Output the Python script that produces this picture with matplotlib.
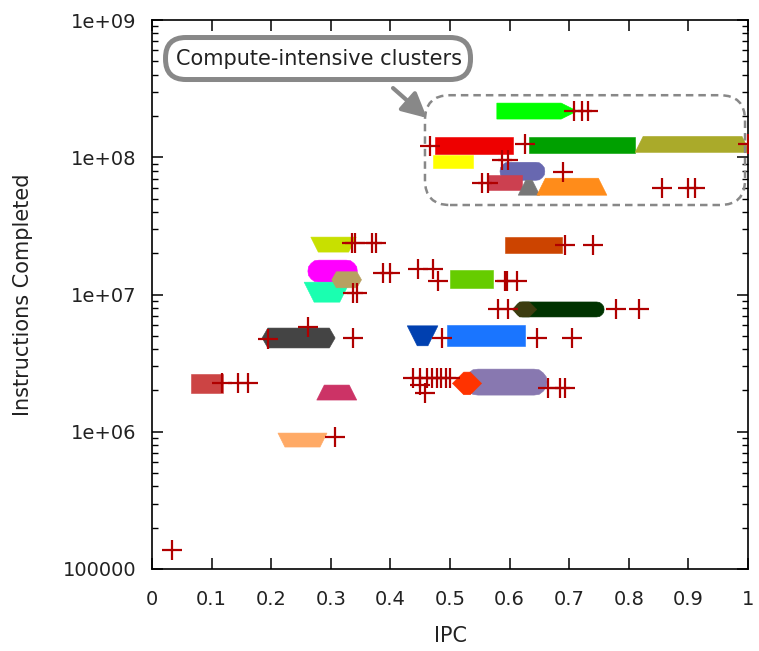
import numpy as np
import matplotlib
matplotlib.use("Agg")
import matplotlib.pyplot as plt
from matplotlib.markers import MarkerStyle
from matplotlib.patches import Polygon, FancyBboxPatch

plt.rcParams["font.family"] = ["DejaVu Sans"]

# clusters: range of IPC covered by the cluster and its instruction count
cluster_ipc_lo = [0.592, 0.489, 0.482, 0.646, 0.824, 0.599, 0.576, 0.627, 0.660,
                  0.279, 0.280, 0.272, 0.317, 0.204, 0.081, 0.289, 0.223, 0.606,
                  0.515, 0.622, 0.617, 0.445, 0.513, 0.547, 0.523]
cluster_ipc_hi = [0.700, 0.591, 0.528, 0.797, 0.990, 0.644, 0.608, 0.638, 0.749,
                  0.330, 0.326, 0.315, 0.336, 0.288, 0.103, 0.331, 0.282, 0.674,
                  0.557, 0.746, 0.633, 0.463, 0.608, 0.641, 0.534]
cluster_instr = [2.17e8, 1.22e8, 9.3e7, 1.22e8, 1.24e8, 7.9e7, 6.55e7, 6.0e7, 6.1e7,
                 2.31e7, 1.48e7, 1.04e7, 1.28e7, 4.82e6, 2.25e6, 1.93e6, 8.7e5, 2.3e7,
                 1.3e7, 7.78e6, 7.78e6, 5.0e6, 5.0e6, 2.3e6, 2.25e6]

# style of each cluster
cluster_markers = [">", "s", "s", "s", "^", "o", "s", "^", "^",
                   "v", "o", "v", "H", "H", "s", "^", "v", "s",
                   "s", "o", "D", "v", "s", "o", "D"]
cluster_sizes = [16, 17, 13, 16, 16, 18, 15, 15, 17,
                 15, 22, 20, 18.5, 23, 19, 15, 14, 16,
                 18, 15, 10.6, 20, 21, 26, 16]
cluster_colors = ["#00ff00", "#ee0000", "#ffff00", "#00a000", "#aaaa2a", "#6868b0",
                  "#cc4050", "#777777", "#ff8c1a", "#c8e000", "#ff00ff", "#1affb0",
                  "#b8a060", "#444444", "#cc4444", "#cc3366", "#ffaa66", "#cc4400",
                  "#66cc00", "#003300", "#3d3d10", "#0040b0", "#1a75ff", "#8878b0",
                  "#ff3300"]

# outliers (red crosses)
outlier_ipc = [0.034, 0.708, 0.721, 0.732, 0.466, 0.626, 1.0, 0.587, 0.597,
               0.554, 0.564, 0.690, 0.856, 0.899, 0.911,
               0.336, 0.341, 0.369, 0.376, 0.388, 0.399, 0.337, 0.344,
               0.195, 0.262, 0.337, 0.117, 0.144, 0.161, 0.307,
               0.693, 0.740, 0.446, 0.471, 0.480, 0.592, 0.596, 0.612,
               0.581, 0.597, 0.779, 0.817, 0.487, 0.646, 0.705,
               0.438, 0.450, 0.461, 0.470, 0.478, 0.485, 0.493, 0.500,
               0.450, 0.458, 0.664, 0.685, 0.693]
outlier_instr = [1.375e5, 2.17e8, 2.17e8, 2.17e8, 1.21e8, 1.25e8, 1.25e8, 9.55e7, 9.55e7,
                 6.49e7, 6.49e7, 7.81e7, 5.97e7, 5.97e7, 5.97e7,
                 2.37e7, 2.37e7, 2.37e7, 2.37e7, 1.43e7, 1.43e7, 1.03e7, 1.03e7,
                 4.74e6, 5.8e6, 4.82e6, 2.27e6, 2.27e6, 2.27e6, 9.16e5,
                 2.29e7, 2.29e7, 1.53e7, 1.53e7, 1.25e7, 1.25e7, 1.25e7, 1.25e7,
                 7.84e6, 7.84e6, 7.84e6, 7.84e6, 4.82e6, 4.82e6, 4.82e6,
                 2.46e6, 2.46e6, 2.46e6, 2.46e6, 2.46e6, 2.46e6, 2.46e6, 2.46e6,
                 2.19e6, 1.92e6, 2.08e6, 2.08e6, 2.08e6]

x_ticks = [0, 0.1, 0.2, 0.3, 0.4, 0.5, 0.6, 0.7, 0.8, 0.9, 1]
x_ticklabels = ["0", "0.1", "0.2", "0.3", "0.4", "0.5", "0.6", "0.7", "0.8", "0.9", "1"]
y_ticks = [1e5, 1e6, 1e7, 1e8, 1e9]
y_ticklabels = ["100000", "1e+06", "1e+07", "1e+08", "1e+09"]

DPI = 100
AX_W, AX_H = 596, 549  # axes size in pixels


def convex_hull(pts):
    pts = sorted(set(map(tuple, np.round(pts, 3))))
    def cross(o, a, b):
        return (a[0] - o[0]) * (b[1] - o[1]) - (a[1] - o[1]) * (b[0] - o[0])
    lower, upper = [], []
    for p in pts:
        while len(lower) >= 2 and cross(lower[-2], lower[-1], p) <= 0:
            lower.pop()
        lower.append(p)
    for p in reversed(pts):
        while len(upper) >= 2 and cross(upper[-2], upper[-1], p) <= 0:
            upper.pop()
        upper.append(p)
    return np.array(lower[:-1] + upper[:-1])


def band(ax, x0, x1, y, marker, size_px, color, z):
    # a cluster of markers sliding from x0 to x1 -> hull of the two end markers
    ms = MarkerStyle(marker)
    path = ms.get_path().transformed(ms.get_transform())
    polys = path.to_polygons()
    verts = np.concatenate(polys) if len(polys) else path.vertices
    verts = verts * size_px
    pts = []
    for xv in (x0, x1):
        c = ax.transData.transform((xv, y))
        pts.append(verts + c)
    hull = convex_hull(np.vstack(pts))
    hull_data = ax.transData.inverted().transform(hull)
    ax.add_patch(Polygon(hull_data, closed=True, fc=color, ec=color, lw=0.4, zorder=z))


fig = plt.figure(figsize=(7.59, 6.51), dpi=DPI)
ax = fig.add_axes([152 / 759, 82 / 651, AX_W / 759, AX_H / 651])
ax.set_yscale("log")
ax.set_xlim(0, 1)
ax.set_ylim(1e5, 1e9)

for i in range(len(cluster_instr)):
    band(ax, cluster_ipc_lo[i], cluster_ipc_hi[i], cluster_instr[i],
         cluster_markers[i], cluster_sizes[i], cluster_colors[i], 2 + i * 0.01)

ax.plot(outlier_ipc, outlier_instr, ls="none", marker="+", ms=14, mew=1.6,
        color="#b00000", zorder=3)

ax.set_xticks(x_ticks)
ax.set_xticklabels(x_ticklabels)
ax.set_yticks(y_ticks)
ax.set_yticklabels(y_ticklabels)
ax.yaxis.set_minor_locator(matplotlib.ticker.LogLocator(base=10, subs=np.arange(2, 10)))
ax.yaxis.set_minor_formatter(matplotlib.ticker.NullFormatter())
ax.tick_params(which="both", direction="in", top=True, right=True, labelsize=14,
               colors="black", labelcolor="#222222")
ax.tick_params(axis="y", which="major", length=8, width=1.1, pad=11)
ax.tick_params(axis="x", which="major", length=8, width=1.1, pad=15)
ax.tick_params(which="minor", length=4.5, width=1.0)
for s in ax.spines.values():
    s.set_linewidth(1.2)

ax.set_xlabel("IPC", fontsize=15, color="#222222")
ax.set_ylabel("Instructions Completed", fontsize=15, color="#222222")
ax.xaxis.set_label_coords(0.5, -0.104)
ax.yaxis.set_label_coords(-0.200, 0.5)

# dashed highlight around compute-intensive clusters
ax.add_patch(FancyBboxPatch((0.458, 0.663), 0.537, 0.2,
                            boxstyle="round,pad=0,rounding_size=0.042",
                            mutation_aspect=AX_W / AX_H,
                            transform=ax.transAxes, fill=False, ec="#888888",
                            lw=1.8, ls=(0, (3, 2)), zorder=5))

# callout box with the label
ax.add_patch(FancyBboxPatch((0.0227, 0.8916), 0.5117, 0.0765,
                            boxstyle="round,pad=0,rounding_size=0.034",
                            mutation_aspect=AX_W / AX_H,
                            transform=ax.transAxes, fc="white", ec="#888888",
                            lw=3.6, zorder=6))
ax.text(0.2795, 0.929, "Compute-intensive clusters", transform=ax.transAxes,
        ha="center", va="center", fontsize=15, color="#222222", zorder=7)
ax.annotate("", xy=(0.4614, 0.8215), xycoords="axes fraction",
            xytext=(0.4044, 0.8760), textcoords="axes fraction", zorder=6,
            arrowprops=dict(arrowstyle="-|>,head_length=0.75,head_width=0.38",
                            color="#888888", lw=3, shrinkA=0, shrinkB=0,
                            mutation_scale=20))

fig.savefig("out.png", dpi=DPI)
